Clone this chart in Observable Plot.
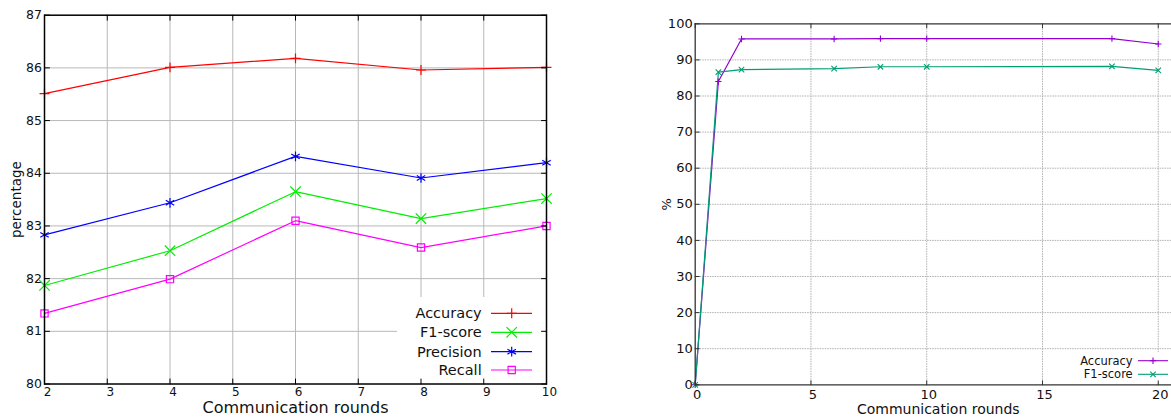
<!DOCTYPE html>
<html><head><meta charset="utf-8">
<script src="https://cdn.jsdelivr.net/npm/d3@7"></script>
<script src="https://cdn.jsdelivr.net/npm/@observablehq/plot@0.6"></script>
<style>
html,body{margin:0;padding:0;background:#fff;overflow:hidden;}
#wrap{display:flex;width:1171px;height:417px;overflow:hidden;}
#wrap svg{flex-shrink:0;display:block;}
</style></head><body><div id="wrap"></div>
<script>
// ---------- data: left chart ----------
const roundsLeft = [2, 4, 6, 8, 10];
const accuracyLeft = [85.51, 86.01, 86.18, 85.96, 86.01];
const f1Left = [81.87, 82.53, 83.65, 83.14, 83.52];
const precisionLeft = [82.83, 83.44, 84.32, 83.91, 84.20];
const recallLeft = [81.34, 81.99, 83.10, 82.59, 83.00];
const namesLeft = ["Accuracy", "F1-score", "Precision", "Recall"];
const xTicksLeft = [2, 3, 4, 5, 6, 7, 8, 9, 10];
const yTicksLeft = [80, 81, 82, 83, 84, 85, 86, 87];

// ---------- data: right chart ----------
const roundsRight = [0, 1, 2, 6, 8, 10, 18, 20];
const accuracyRight = [0, 84.0, 95.8, 95.8, 95.9, 95.9, 95.9, 94.4];
const f1Right = [0, 86.6, 87.3, 87.6, 88.1, 88.1, 88.2, 87.1];
const namesRight = ["Accuracy", "F1-score"];
const xTicksRight = [0, 5, 10, 15, 20];
const yTicksRight = [0, 10, 20, 30, 40, 50, 60, 70, 80, 90, 100];

const xLabel = "Communication rounds";
const yLabelLeft = "percentage";
const yLabelRight = "%";

// ---------- styles ----------
const colorsLeft = ["#ff0000", "#00ee00", "#0000ff", "#ff00ff"];
const symbolsLeft = ["plus", "times", "asterisk", "square2"];
const rLeft = [3.3, 4.8, 4.6, 4.6];
const colorsRight = ["#9400d3", "#009e73"];
const symbolsRight = ["plus", "times"];
const rRight = [2.2, 2.6];
const font = "DejaVu Sans";

const seriesLeft = [accuracyLeft, f1Left, precisionLeft, recallLeft];
const seriesRight = [accuracyRight, f1Right];
const tableLeft = seriesLeft.flatMap((vals, k) => roundsLeft.map((r, i) => ({series: namesLeft[k], x: r, y: vals[i]})));
const tableRight = seriesRight.flatMap((vals, k) => roundsRight.map((r, i) => ({series: namesRight[k], x: r, y: vals[i]})));

const tickShape = {draw(ctx, l) { ctx.moveTo(0, 0); ctx.lineTo(0, -l); }};
const d3sym = {plus: d3.symbolPlus, times: d3.symbolTimes, asterisk: d3.symbolAsterisk, square2: d3.symbolSquare2};

function addLegend(svg, cfg) {
  const root = d3.select(svg);
  const before = root.select('g[aria-label="line"]').node();
  const g = root.insert("g", () => before);
  g.append("rect").attr("x", cfg.boxX).attr("y", cfg.boxY).attr("width", cfg.boxW).attr("height", cfg.boxH).attr("fill", "white");
  cfg.names.forEach((name, i) => {
    const y = cfg.rowY[i];
    g.append("text").attr("x", cfg.textX).attr("y", y).attr("text-anchor", "end").attr("dy", "0.35em")
      .attr("font-family", font).attr("font-size", cfg.fontSize).attr("fill", "#111").text(name);
    g.append("line").attr("x1", cfg.lineX1).attr("x2", cfg.lineX2).attr("y1", y).attr("y2", y)
      .attr("stroke", cfg.colors[i]).attr("stroke-width", cfg.sw);
    const size = Math.PI * cfg.r[i] * cfg.r[i];
    g.append("path").attr("d", d3.symbol(d3sym[cfg.symbols[i]], size)()).attr("transform", `translate(${cfg.markX},${y})`)
      .attr("fill", "none").attr("stroke", cfg.colors[i]).attr("stroke-width", cfg.sw);
  });
}

// ---------- left chart ----------
const L = {width: 590, height: 417, ml: 44, mr: 44, mt: 14.7, mb: 33.5};
const leftMarks = [
  Plot.gridX(xTicksLeft.slice(1, -1), {stroke: "#b8b8b8", strokeOpacity: 1, strokeWidth: 1}),
  Plot.gridY(yTicksLeft.slice(1, -1), {stroke: "#b8b8b8", strokeOpacity: 1, strokeWidth: 1}),
  Plot.line(tableLeft, {x: "x", y: "y", z: "series", stroke: "series", strokeWidth: 1.2})
];
namesLeft.forEach((n, k) => {
  leftMarks.push(Plot.dot(tableLeft.filter(d => d.series === n), {x: "x", y: "y", symbol: () => symbolsLeft[k], r: rLeft[k], stroke: colorsLeft[k], fill: "none", strokeWidth: 1.2}));
});
leftMarks.push(
  Plot.vector(xTicksLeft, {x: d => d, frameAnchor: "bottom", length: 5, rotate: 0, anchor: "start", shape: tickShape, stroke: "#000", strokeWidth: 1}),
  Plot.vector(xTicksLeft, {x: d => d, frameAnchor: "top", length: 5, rotate: 180, anchor: "start", shape: tickShape, stroke: "#000", strokeWidth: 1}),
  Plot.vector(yTicksLeft, {y: d => d, frameAnchor: "left", length: 5, rotate: 90, anchor: "start", shape: tickShape, stroke: "#000", strokeWidth: 1}),
  Plot.vector(yTicksLeft, {y: d => d, frameAnchor: "right", length: 5, rotate: -90, anchor: "start", shape: tickShape, stroke: "#000", strokeWidth: 1}),
  Plot.axisX(xTicksLeft, {tickSize: 0, tickPadding: 3.5, dx: 3, fontSize: 12, label: null, fill: "#111", tickFormat: "d"}),
  Plot.axisY(yTicksLeft, {tickSize: 0, tickPadding: 2.5, fontSize: 12.5, label: null, fill: "#111", tickFormat: "d"}),
  Plot.text([xLabel], {text: d => d, frameAnchor: "bottom", lineAnchor: "middle", textAnchor: "middle", dy: 24, fontSize: 16, fill: "#111"}),
  Plot.text([yLabelLeft], {text: d => d, frameAnchor: "left", textAnchor: "middle", lineAnchor: "middle", dx: -28, rotate: -90, fontSize: 13.5, fill: "#111"}),
  Plot.frame({stroke: "#000", strokeWidth: 1.5})
);
const left = Plot.plot({
  width: L.width, height: L.height, marginLeft: L.ml, marginRight: L.mr, marginTop: L.mt, marginBottom: L.mb,
  style: {fontFamily: font, background: "white", color: "#111"},
  x: {domain: [2, 10]}, y: {domain: [80, 87]},
  color: {domain: namesLeft, range: colorsLeft},
  marks: leftMarks
});
{
  const R = L.width - L.mr, B = L.height - L.mb;
  addLegend(left, {
    names: namesLeft, colors: colorsLeft, symbols: symbolsLeft, r: rLeft, sw: 1.2, fontSize: 14.5,
    boxX: 397, boxY: 297, boxW: R - 397 - 0.5, boxH: B - 297 - 0.5,
    textX: R - 64.3, rowY: [B - 70.2, B - 51.2, B - 31.8, B - 13.5],
    lineX1: R - 55, lineX2: R - 14, markX: R - 34.3
  });
}

// ---------- right chart ----------
const Rc = {width: 601, height: 417, ml: 104.7, mr: 10.1, mt: 23.3, mb: 32.7};
const rightMarks = [
  Plot.gridX(xTicksRight.slice(1), {stroke: "#b0b0b0", strokeOpacity: 1, strokeWidth: 1, strokeDasharray: "1.5,1"}),
  Plot.gridY(yTicksRight.slice(1, -1), {stroke: "#b0b0b0", strokeOpacity: 1, strokeWidth: 1, strokeDasharray: "1.5,1"}),
  Plot.line(tableRight, {x: "x", y: "y", z: "series", stroke: "series", strokeWidth: 1.2})
];
namesRight.forEach((n, k) => {
  rightMarks.push(Plot.dot(tableRight.filter(d => d.series === n), {x: "x", y: "y", symbol: () => symbolsRight[k], r: rRight[k], stroke: colorsRight[k], fill: "none", strokeWidth: 1.1}));
});
rightMarks.push(
  Plot.vector(xTicksRight, {x: d => d, frameAnchor: "bottom", length: 4, rotate: 0, anchor: "start", shape: tickShape, stroke: "#333", strokeWidth: 1}),
  Plot.vector(xTicksRight, {x: d => d, frameAnchor: "top", length: 4, rotate: 180, anchor: "start", shape: tickShape, stroke: "#333", strokeWidth: 1}),
  Plot.vector(yTicksRight, {y: d => d, frameAnchor: "left", length: 4, rotate: 90, anchor: "start", shape: tickShape, stroke: "#333", strokeWidth: 1}),
  Plot.ruleY([0, 100], {stroke: "#333", strokeWidth: 1.3}),
  Plot.ruleX([0], {stroke: "#333", strokeWidth: 1.3}),
  Plot.axisX(xTicksRight, {tickSize: 0, tickPadding: 5, dx: 2, fontSize: 13, label: null, fill: "#111", tickFormat: "d"}),
  Plot.axisY(yTicksRight, {tickSize: 0, tickPadding: 2.5, fontSize: 13, label: null, fill: "#111", tickFormat: "d"}),
  Plot.text([xLabel], {text: d => d, frameAnchor: "bottom", lineAnchor: "middle", textAnchor: "middle", dy: 24.5, fontSize: 14, fill: "#111"}),
  Plot.text([yLabelRight], {text: d => d, frameAnchor: "left", textAnchor: "middle", lineAnchor: "middle", dx: -28, rotate: -90, fontSize: 13, fill: "#111"})
);
const right = Plot.plot({
  width: Rc.width, height: Rc.height, marginLeft: Rc.ml, marginRight: Rc.mr, marginTop: Rc.mt, marginBottom: Rc.mb,
  style: {fontFamily: font, background: "white", color: "#111"},
  x: {domain: [0, 21]}, y: {domain: [0, 100]},
  color: {domain: namesRight, range: colorsRight},
  marks: rightMarks
});
{
  const R = Rc.width - Rc.mr, B = Rc.height - Rc.mb;
  addLegend(right, {
    names: namesRight, colors: colorsRight, symbols: symbolsRight, r: rRight, sw: 1.1, fontSize: 11.5,
    boxX: R - 106, boxY: B - 32, boxW: 106, boxH: 30,
    textX: R - 48.2, rowY: [B - 23.6, B - 10],
    lineX1: R - 42.9, lineX2: R - 12.9, markX: R - 27.9
  });
}

document.getElementById("wrap").append(left, right);
</script>
</body></html>
